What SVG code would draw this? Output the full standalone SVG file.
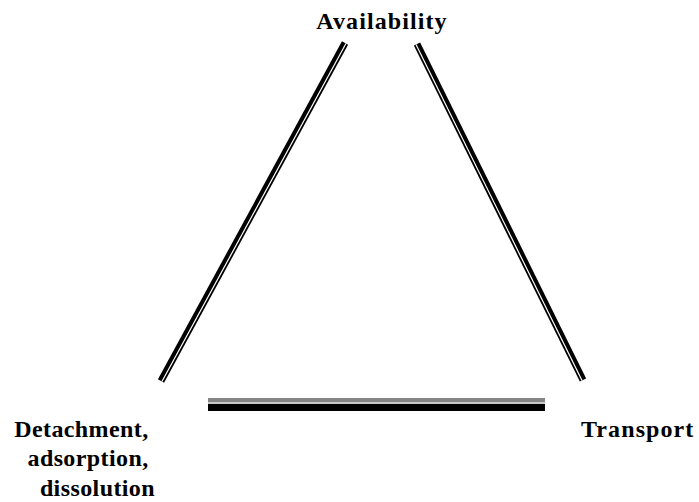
<svg xmlns="http://www.w3.org/2000/svg" width="699" height="502" viewBox="0 0 699 502">
<style>
.lbl{font-family:"Liberation Serif","Times New Roman",serif;font-weight:bold;font-size:24px;letter-spacing:1.1px;fill:#000}
.edge{stroke:#000;stroke-width:7;fill:none}
.gap{stroke:#fff;stroke-width:1.2;fill:none}
</style>
<rect width="699" height="502" fill="#fff"/>
<text x="167" y="-4" font-family="'Open Sans','Liberation Sans',sans-serif" font-size="18" fill="#2E74B5">g</text>
<g id="connectors">
  <g id="edge-availability-detachment">
    <line class="edge" x1="345" y1="43" x2="161" y2="381"/>
    <line class="gap" x1="345.97" y1="43.53" x2="161.97" y2="381.53"/>
  </g>
  <g id="edge-availability-transport">
    <line class="edge" x1="417" y1="44" x2="583" y2="380"/>
    <line class="gap" x1="416.01" y1="44.49" x2="582.01" y2="380.49"/>
  </g>
  <g id="edge-detachment-transport">
    <rect x="208" y="398" width="337" height="4" fill="#858585"/>
    <rect x="208" y="402" width="337" height="2" fill="#c8c8c8"/>
    <rect x="208" y="404" width="337" height="7" fill="#000"/>
  </g>
</g>
<g id="node-availability">
  <text class="lbl" x="382" y="29" text-anchor="middle">Availability</text>
</g>
<g id="node-detachment">
  <text class="lbl" text-anchor="end" style="letter-spacing:0.4px">
    <tspan x="155" y="437">Detachment,</tspan>
    <tspan x="155" y="466">adsorption,</tspan>
    <tspan x="155" y="496">dissolution</tspan>
  </text>
</g>
<g id="node-transport">
  <text class="lbl" x="581" y="437">Transport</text>
</g>
</svg>
